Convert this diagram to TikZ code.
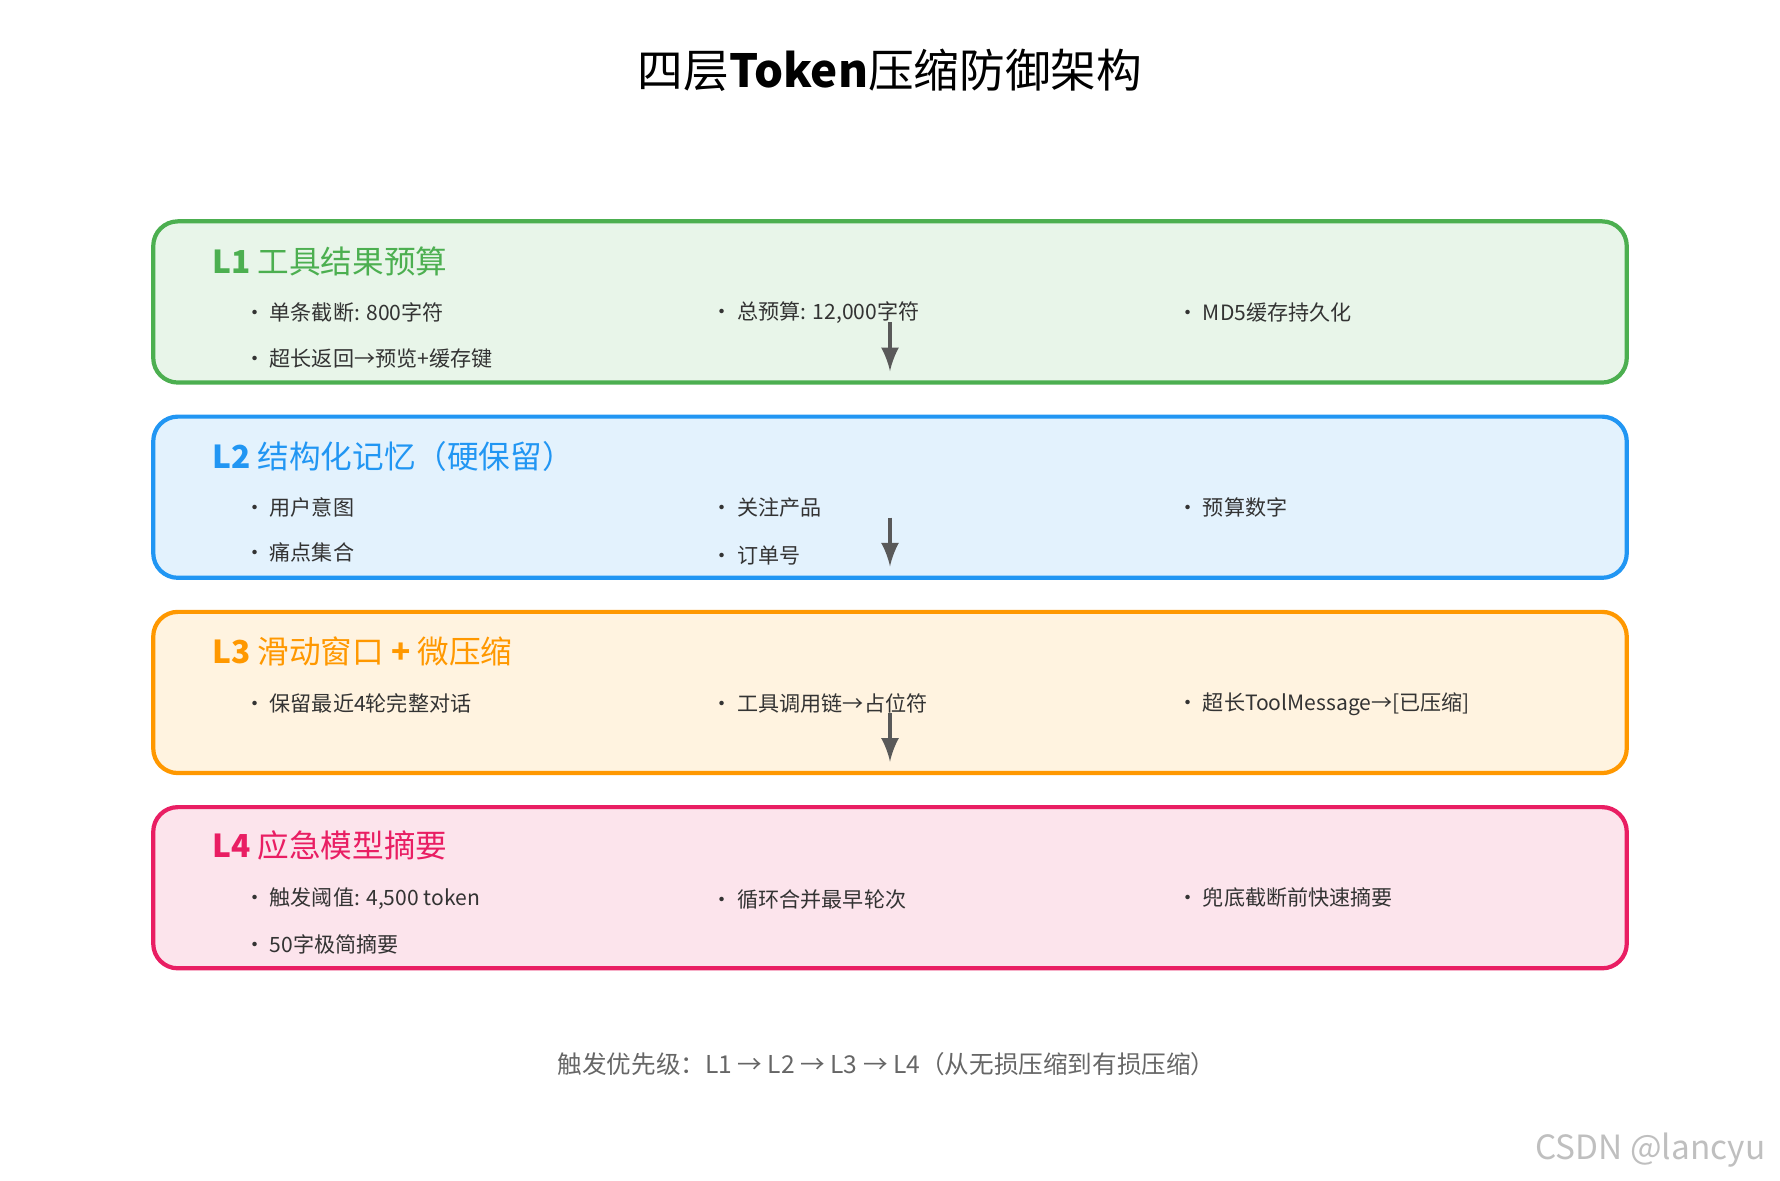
\documentclass[tikz,border=0pt]{standalone}
\usepackage{fontspec}
\setmainfont{Noto Sans CJK SC}
\usetikzlibrary{positioning}
\definecolor{gA}{HTML}{4CAF50}\definecolor{gAf}{HTML}{E8F5E9}
\definecolor{bA}{HTML}{2196F3}\definecolor{bAf}{HTML}{E3F2FD}
\definecolor{oA}{HTML}{FF9800}\definecolor{oAf}{HTML}{FFF3E0}
\definecolor{pA}{HTML}{E91E63}\definecolor{pAf}{HTML}{FCE4EC}
\definecolor{txt}{HTML}{333333}
\tikzset{
    layer/.style={draw=#1, line width=1.2pt, rounded corners=7pt},
    ltitle/.style={anchor=west, font=\fontsize{9}{10}\selectfont},
    item/.style={anchor=west, text=txt, font=\fontsize{6}{7}\selectfont},
    flow/.style={draw=black!65, line width=1.3pt, -latex},
}
\begin{document}
\begin{tikzpicture}[x=0.011352cm, y=-0.011352cm]
    \useasboundingbox (0,0) rectangle (1568,1040);
    \node[font=\fontsize{13}{14}\selectfont] (title) at (784,62) {四层\textbf{Token}压缩防御架构};
    % layers
    \fill[gAf, rounded corners=7pt] (135,195) rectangle (1433,337);
    \draw[layer=gA] (135,195) rectangle (1433,337);
    \fill[bAf, rounded corners=7pt] (135,367) rectangle (1433,509);
    \draw[layer=bA] (135,367) rectangle (1433,509);
    \fill[oAf, rounded corners=7pt] (135,539) rectangle (1433,681);
    \draw[layer=oA] (135,539) rectangle (1433,681);
    \fill[pAf, rounded corners=7pt] (135,711) rectangle (1433,853);
    \draw[layer=pA] (135,711) rectangle (1433,853);
    \node[ltitle, text=gA] (t1) at (176,230) {\textbf{L1} 工具结果预算};
    \node[ltitle, text=bA] (t2) at (176,402) {\textbf{L2} 结构化记忆（硬保留）};
    \node[ltitle, text=oA] (t3) at (176,574) {\textbf{L3} 滑动窗口 \textbf{+} 微压缩};
    \node[ltitle, text=pA] (t4) at (176,745) {\textbf{L4} 应急模型摘要};
    % items
    \node[item] (a1) at (204,275) {• 单条截断: 800字符};
    \node[item] (a2) at (616,275) {• 总预算: 12,000字符};
    \node[item] (a3) at (1026,275) {• MD5缓存持久化};
    \node[item] (a4) at (204,316) {• 超长返回→预览+缓存键};
    \node[item] (b1) at (204,447) {• 用户意图};
    \node[item] (b2) at (616,447) {• 关注产品};
    \node[item] (b3) at (1026,447) {• 预算数字};
    \node[item] (b4) at (204,487) {• 痛点集合};
    \node[item] (b5) at (616,489) {• 订单号};
    \node[item] (c1) at (204,620) {• 保留最近4轮完整对话};
    \node[item] (c2) at (616,620) {• 工具调用链→占位符};
    \node[item] (c3) at (1026,620) {• 超长ToolMessage→[已压缩]};
    \node[item] (d1) at (204,792) {• 触发阈值: 4,500 token};
    \node[item] (d2) at (616,792) {• 循环合并最早轮次};
    \node[item] (d3) at (1026,791) {• 兜底截断前快速摘要};
    \node[item] (d4) at (204,832) {• 50字极简摘要};
    % arrows
    \coordinate (s1) at (784,284); \coordinate (e1) at (784,327);
    \coordinate (s2) at (784,456); \coordinate (e2) at (784,499);
    \coordinate (s3) at (784,628); \coordinate (e3) at (784,671);
    \draw[flow] (s1) -- (e1);
    \draw[flow] (s2) -- (e2);
    \draw[flow] (s3) -- (e3);
    \node[text=black!60, font=\fontsize{7}{8}\selectfont] (foot) at (781,937)
        {触发优先级：\textit{L1 → L2 → L3 → L4}（从无损压缩到有损压缩）};
    \node[text=black!25, font=\fontsize{9.5}{10}\selectfont, anchor=east] (wm) at (1566,1013) {CSDN @lancyu};
\end{tikzpicture}
\end{document}
